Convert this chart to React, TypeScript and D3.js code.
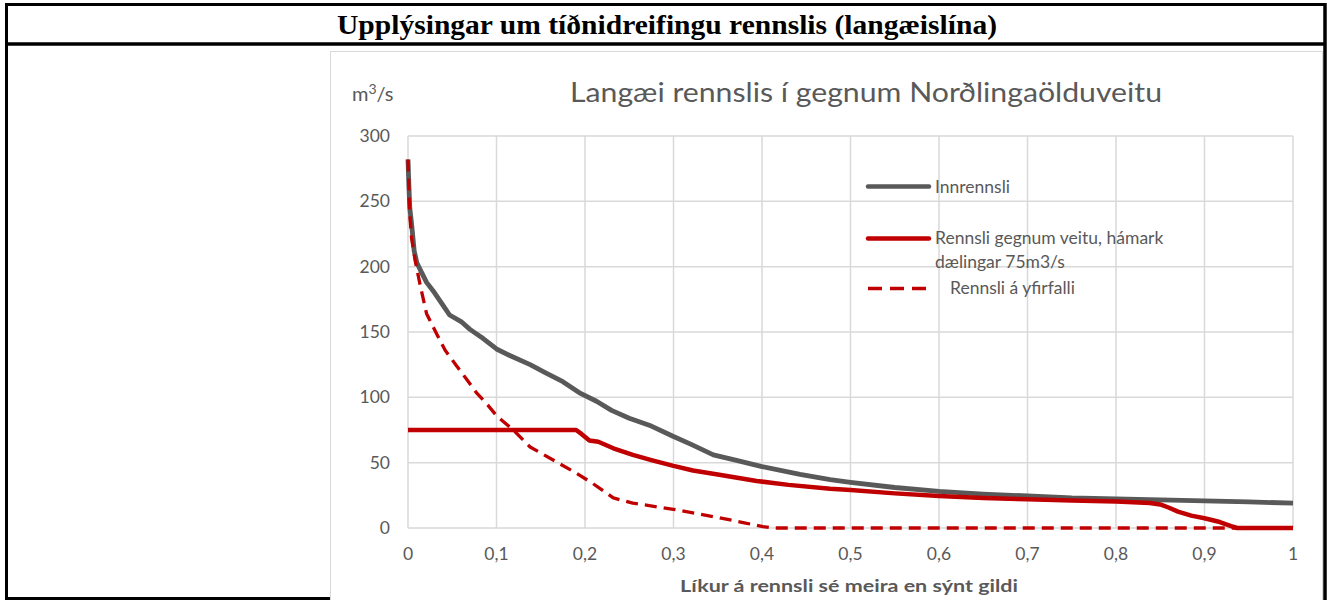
import React from 'react'
import * as d3 from 'd3'

// duration curves, [probability, m3/s]
const inflow: [number, number][] = [
  [0, 282], [0.001, 262], [0.002, 245], [0.004, 233], [0.007, 212], [0.01, 203],
  [0.015, 196], [0.021, 188], [0.03, 180], [0.04, 170], [0.047, 163], [0.06, 158],
  [0.07, 152], [0.085, 145], [0.1, 137], [0.115, 132], [0.138, 125], [0.155, 119],
  [0.175, 112], [0.195, 103], [0.213, 97], [0.23, 90], [0.25, 84], [0.275, 78],
  [0.3, 70], [0.32, 64], [0.345, 56], [0.37, 52], [0.4, 47], [0.443, 41],
  [0.477, 37], [0.5, 35], [0.55, 31], [0.6, 28], [0.65, 26], [0.7, 24.5],
  [0.75, 23], [0.8, 22.3], [0.85, 21.5], [0.9, 20.7], [0.95, 20], [1, 19],
]

const pumped: [number, number][] = [
  [0, 75], [0.19, 75], [0.196, 72], [0.205, 67], [0.215, 66], [0.232, 61],
  [0.254, 56], [0.275, 52], [0.3, 47.5], [0.322, 44], [0.35, 41], [0.394, 36],
  [0.43, 33], [0.477, 30], [0.5, 29], [0.55, 26.5], [0.6, 24.5], [0.65, 23],
  [0.7, 22], [0.75, 21], [0.8, 20.3], [0.838, 19.2], [0.85, 18], [0.86, 15.5],
  [0.87, 12.5], [0.885, 9.5], [0.9, 7.5], [0.915, 5], [0.93, 1.5], [0.937, 0], [1, 0],
]

const spill: [number, number][] = [
  [0, 282], [0.002, 240], [0.004, 222], [0.008, 205], [0.014, 185], [0.021, 164],
  [0.032, 149], [0.042, 136], [0.055, 124], [0.066, 114], [0.078, 103], [0.089, 95],
  [0.1, 86], [0.119, 75], [0.138, 62], [0.164, 52], [0.19, 42], [0.209, 34],
  [0.232, 23], [0.254, 19], [0.3, 14.3], [0.345, 8.7], [0.38, 4], [0.401, 1],
  [0.412, 0], [1, 0],
]

const xTicks = [0, 0.1, 0.2, 0.3, 0.4, 0.5, 0.6, 0.7, 0.8, 0.9, 1]
const yTicks = [0, 50, 100, 150, 200, 250, 300]

const pageTitle = 'Upplýsingar um tíðnidreifingu rennslis (langæislína)'
const chartTitle = 'Langæi rennslis í gegnum Norðlingaölduveitu'
const xTitle = 'Líkur á rennsli sé meira en sýnt gildi'
const legendNames = ['Innrennsli', 'Rennsli gegnum veitu, hámark', 'dælingar 75m3/s', 'Rennsli á yfirfalli']

const GREY = '#595959'
const RED = '#c00000'
const GRID = '#d9d9d9'
const FONT = 'Lato, "Open Sans", sans-serif'

export default function App() {
  const x = d3.scaleLinear().domain([0, 1]).range([408, 1293])
  const y = d3.scaleLinear().domain([0, 300]).range([528, 136])

  const line = d3.line<[number, number]>()
    .x(d => x(d[0]))
    .y(d => y(d[1]))

  const fmt = (v: number) => String(v).replace('.', ',')

  return (
    <svg width={1327} height={600} style={{ position: 'absolute', left: 0, top: 0 }}>
      <rect width={1327} height={600} fill="#fff" />

      {/* chart frame */}
      <rect x={330.5} y={51.5} width={992} height={560} fill="#fff" stroke={GRID} />

      {/* table borders */}
      <line x1={5} x2={1326} y1={4.5} y2={4.5} stroke="#000" strokeWidth={3} />
      <line x1={5} x2={1326} y1={44} y2={44} stroke="#000" strokeWidth={3.5} />
      <line x1={6.5} x2={6.5} y1={3} y2={600} stroke="#000" strokeWidth={3} />
      <line x1={1325} x2={1325} y1={3} y2={600} stroke="#000" strokeWidth={3.5} />
      <line x1={5} x2={330} y1={598.5} y2={598.5} stroke="#000" strokeWidth={3} />

      <text x={667} y={34} textAnchor="middle" fontFamily='"Liberation Serif", "Times New Roman", serif'
        fontWeight="bold" fontSize={28} textLength={660} lengthAdjust="spacingAndGlyphs">{pageTitle}</text>

      {/* grid */}
      {yTicks.map(t => (
        <line key={'h' + t} x1={x(0)} x2={x(1)} y1={y(t)} y2={y(t)} stroke={GRID} strokeWidth={1.5} />
      ))}
      {xTicks.map(t => (
        <line key={'v' + t} x1={x(t)} x2={x(t)} y1={y(300)} y2={y(0)} stroke={GRID} strokeWidth={1.5} />
      ))}

      {/* tick labels */}
      {yTicks.map(t => (
        <text key={'yl' + t} x={390} y={y(t) + 6} textAnchor="end" fill={GREY} fontFamily={FONT} fontSize={17.5}>{t}</text>
      ))}
      {xTicks.map(t => (
        <text key={'xl' + t} x={x(t)} y={560} textAnchor="middle" fill={GREY} fontFamily={FONT} fontSize={17.5}>{fmt(t)}</text>
      ))}

      <text x={352} y={101} fill={GREY} fontFamily={FONT} fontSize={20}>
        m<tspan fontSize={14} dy={-7}>3</tspan><tspan dy={7}>/s</tspan>
      </text>
      <text x={866} y={102} textAnchor="middle" fill={GREY} fontFamily={FONT} fontSize={26} textLength={592}
        lengthAdjust="spacingAndGlyphs">{chartTitle}</text>
      <text x={849} y={592} textAnchor="middle" fill={GREY} fontFamily={FONT} fontSize={17.5} fontWeight="bold"
        textLength={338} lengthAdjust="spacingAndGlyphs">{xTitle}</text>

      {/* series */}
      <path d={line(inflow) ?? ''} fill="none" stroke={GREY} strokeWidth={4.8} strokeLinejoin="round" />
      <path d={line(pumped) ?? ''} fill="none" stroke={RED} strokeWidth={4.5} strokeLinejoin="round" />
      <path d={line(spill) ?? ''} fill="none" stroke={RED} strokeWidth={3.3} strokeDasharray="12,7" strokeLinejoin="round" />

      {/* legend */}
      <line x1={868} x2={929} y1={186.5} y2={186.5} stroke={GREY} strokeWidth={4.5} strokeLinecap="round" />
      <text x={935} y={193} fill={GREY} fontFamily={FONT} fontSize={17.5}>{legendNames[0]}</text>
      <line x1={868} x2={929} y1={238.5} y2={238.5} stroke={RED} strokeWidth={4.5} strokeLinecap="round" />
      <text x={935} y={244} fill={GREY} fontFamily={FONT} fontSize={17.5}>{legendNames[1]}</text>
      <text x={935} y={268} fill={GREY} fontFamily={FONT} fontSize={17.5}>{legendNames[2]}</text>
      <line x1={868} x2={929} y1={288.5} y2={288.5} stroke={RED} strokeWidth={3.3} strokeDasharray="14,8" />
      <text x={950} y={294} fill={GREY} fontFamily={FONT} fontSize={17.5}>{legendNames[3]}</text>
    </svg>
  )
}
